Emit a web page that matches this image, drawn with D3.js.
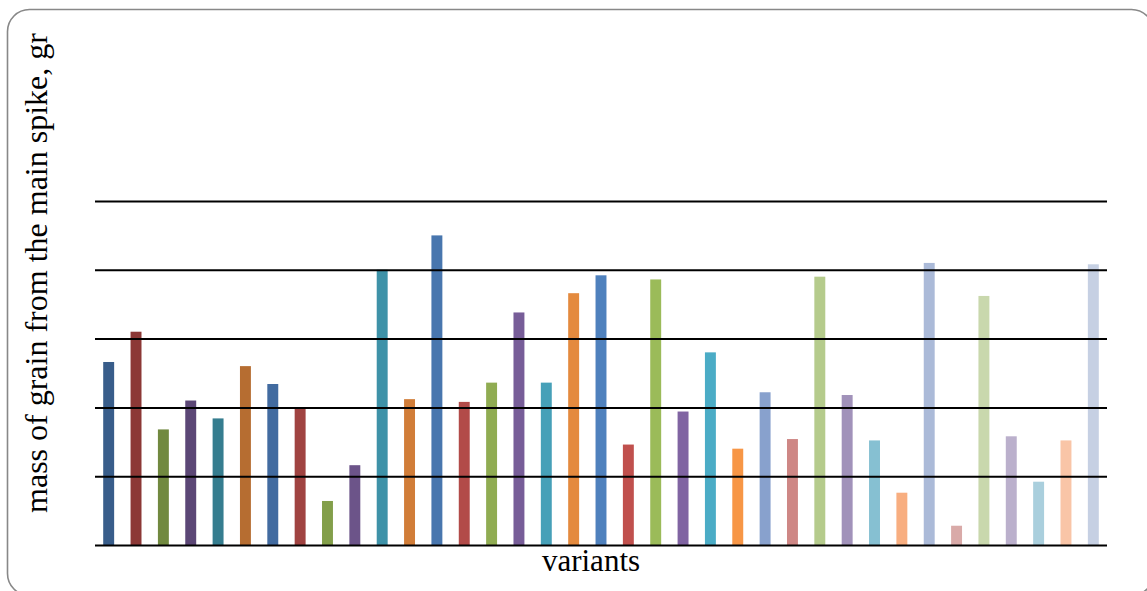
<!DOCTYPE html>
<html>
<head>
<meta charset="utf-8">
<script src="https://cdn.jsdelivr.net/npm/d3@7"></script>
<style>
  html, body { margin: 0; padding: 0; background: #fff; }
  svg { display: block; }
</style>
</head>
<body>
<svg id="chart" width="1147" height="591"></svg>
<script>
// Grain mass of the main spike for each variant (g)
const variants = d3.range(1, 38).map(i => "V" + i);
const grainMass = [
  1.33, 1.55, 0.84, 1.05, 0.92, 1.30, 1.17, 1.00, 0.32, 0.58,
  2.00, 1.06, 2.25, 1.04, 1.18, 1.69, 1.18, 1.83, 1.96, 0.73,
  1.93, 0.97, 1.40, 0.70, 1.11, 0.77, 1.95, 1.09, 0.76, 0.38,
  2.05, 0.14, 1.81, 0.79, 0.46, 0.76, 2.04
];
const gridValues = [0, 0.5, 1.0, 1.5, 2.0, 2.5];
const barColors = [
  "#385d8a", "#8c3836", "#71893f", "#5c4776", "#357d8f", "#b66d31",
  "#426ba0", "#a04341", "#839f4a", "#6c5489", "#3e92a8", "#d17d38",
  "#4876ae", "#b24b49", "#90ac52", "#775d98", "#46a0b8", "#e48a3e",
  "#4f81bd", "#c0504d", "#9bbb59", "#8064a2", "#4bacc6", "#f79646",
  "#88a1cd", "#ce8785", "#b5cb8c", "#a192ba", "#86c0d2", "#f8ae80",
  "#abbad8", "#d9aaa8", "#c9d8ad", "#bbb0cc", "#aacfdd", "#f9c5a7",
  "#c6d0e3"
];

const svg = d3.select("#chart");

// rounded outer frame
svg.append("rect")
  .attr("x", 7.5).attr("y", 9.5)
  .attr("width", 1146).attr("height", 586)
  .attr("rx", 22).attr("ry", 22)
  .attr("fill", "#fff")
  .attr("stroke", "#888")
  .attr("stroke-width", 1.6);

const plot = { left: 95, right: 1107, bottom: 545 };

const x = d3.scaleBand()
  .domain(variants)
  .range([plot.left, plot.right])
  .paddingInner(0.6)
  .paddingOuter(0.3);

const y = d3.scaleLinear()
  .domain([0, 2.5])
  .range([plot.bottom, 201]);

// bars
svg.append("g")
  .selectAll("rect")
  .data(grainMass)
  .join("rect")
  .attr("x", (d, i) => x(variants[i]))
  .attr("width", x.bandwidth())
  .attr("y", d => y(d))
  .attr("height", d => y(0) - y(d))
  .attr("fill", (d, i) => barColors[i]);

// horizontal grid lines (drawn with an axis, labels hidden)
const grid = svg.append("g")
  .attr("transform", `translate(${plot.left},0)`)
  .call(d3.axisLeft(y)
    .tickValues(gridValues)
    .tickSize(-(plot.right - plot.left))
    .tickFormat(""));
grid.select(".domain").remove();
grid.selectAll(".tick line")
  .attr("stroke", "#000")
  .attr("stroke-width", 2);

// axis titles
svg.append("text")
  .attr("x", 591)
  .attr("y", 571)
  .attr("text-anchor", "middle")
  .attr("font-family", "'Liberation Serif', 'Times New Roman', serif")
  .attr("font-size", 31)
  .attr("fill", "#000")
  .text("variants");

svg.append("text")
  .attr("transform", "translate(46.5,273) rotate(-90)")
  .attr("text-anchor", "middle")
  .attr("font-family", "'Liberation Serif', 'Times New Roman', serif")
  .attr("font-size", 32)
  .attr("fill", "#000")
  .text("mass of grain from the main spike, gr");
</script>
</body>
</html>
